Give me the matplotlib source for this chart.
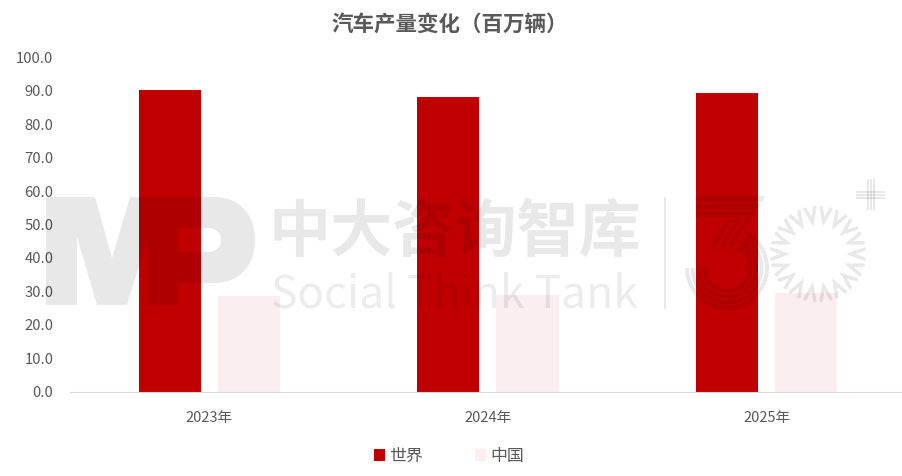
import numpy as np
import matplotlib
matplotlib.use("Agg")
import matplotlib.pyplot as plt
from matplotlib.patches import Rectangle, Arc, Polygon, PathPatch
from matplotlib.path import Path
from matplotlib.transforms import ScaledTranslation

years = ["2023年", "2024年", "2025年"]
world = [90.4, 88.3, 89.5]
china = [28.7, 29.0, 29.6]
yticks = [0, 10, 20, 30, 40, 50, 60, 70, 80, 90, 100]

RED = "#C00000"
PALE = "#FAEEEE"
GREY = "#595959"
WM = (0, 0, 0, 0.09)
WM_LIGHT = (0, 0, 0, 0.075)

plt.rcParams["font.family"] = ["Noto Sans CJK SC", "DejaVu Sans"]


def draw_watermark(fig):
    """Faint logo over the chart, laid out in pixel coordinates."""
    wm = fig.add_axes([0, 0, 1, 1], zorder=10)
    wm.set_xlim(0, 902)
    wm.set_ylim(476, 0)
    wm.axis("off")
    wm.patch.set_alpha(0)

    # M and P share a stem
    m_pts = [(46, 197), (95, 197), (112, 258), (130, 197), (178, 197), (178, 305), (147, 305),
             (147, 240), (127, 305), (97, 305), (77, 237), (77, 305), (46, 305)]
    wm.add_patch(Polygon(m_pts, closed=True, color=WM, lw=0))
    c4 = Path.CURVE4
    verts = [(178, 197), (214, 197), (240, 197), (255, 215), (255, 240), (255, 265), (240, 283),
             (214, 283), (178, 283), (178, 197),
             (178, 228), (178, 252), (208, 252), (216, 252), (221, 247), (221, 240),
             (221, 233), (216, 228), (208, 228), (178, 228)]
    codes = [Path.MOVETO, Path.LINETO, c4, c4, c4, c4, c4, c4, Path.LINETO, Path.CLOSEPOLY,
             Path.MOVETO, Path.LINETO, Path.LINETO, c4, c4, c4, c4, c4, c4, Path.CLOSEPOLY]
    wm.add_patch(PathPatch(Path(verts, codes), color=WM, lw=0))

    wm.text(269, 251, "中大咨询智库", fontsize=44.7, fontweight="bold", color=WM,
            va="baseline", ha="left")
    wm.text(271, 307, "Social Think Tank", fontsize=32, color=WM_LIGHT,
            va="baseline", ha="left")
    wm.add_patch(Rectangle((664, 197), 2, 112, color=WM, lw=0))

    # the 3
    for y in (196, 203.5, 211):
        wm.add_patch(Polygon([(695, y), (765 - (y - 196) * 0.6, y), (762 - (y - 196) * 0.6, y + 6),
                              (695, y + 6)], closed=True, color=WM, lw=0))
    for x0, x1 in ((730, 713), (738, 722), (747, 730)):
        wm.plot([x0, x1], [218, 247], color=WM, lw=2.8, solid_capstyle="butt")
    for r in (23, 29, 34.5, 40):
        wm.add_patch(Arc((727, 268), 2 * r, 2 * r, theta1=-62, theta2=180, color=WM, lw=2.8))

    # sun ring
    cx, cy = 818, 254
    for a in np.radians(np.arange(0, 360, 20)):
        da = np.radians(6.5)
        xs = [cx + 48 * np.cos(a - da), cx + 33 * np.cos(a), cx + 48 * np.cos(a + da)]
        ys = [cy + 48 * np.sin(a - da), cy + 33 * np.sin(a), cy + 48 * np.sin(a + da)]
        wm.plot(xs, ys, color=WM, lw=2.5, solid_joinstyle="miter", solid_capstyle="butt")

    # plus sign
    for off in (-3, 0, 3):
        wm.plot([857, 884], [195 + off, 195 + off], color=WM, lw=1.5)
        wm.plot([871 + off, 871 + off], [180, 209], color=WM, lw=1.5)


def main():
    fig = plt.figure(figsize=(9.02, 4.76), dpi=100)
    ax = fig.add_axes([70 / 902, 84 / 476, 832 / 902, 334 / 476])

    x = np.arange(len(years))
    ax.bar(x - 0.142, world, 0.223, color=RED, label="世界")
    ax.bar(x + 0.142, china, 0.223, color=PALE, label="中国")

    ax.set_xlim(-0.5, 2.486)
    ax.set_ylim(0, 100)
    ax.set_xticks(x, years)
    ax.set_yticks(yticks, [f"{v:.1f}" for v in yticks])
    ax.tick_params(axis="both", length=0, labelcolor=GREY, labelsize=10.5)
    ax.tick_params(axis="x", pad=14)
    ax.tick_params(axis="y", labelsize=10.7, pad=12)
    # y labels sit slightly above their gridline position
    nudge = ScaledTranslation(0, 0.5 / 100, fig.dpi_scale_trans)
    for label in ax.get_yticklabels():
        label.set_transform(label.get_transform() + nudge)
    for side in ("top", "right", "left"):
        ax.spines[side].set_visible(False)
    ax.spines["bottom"].set_color("#D9D9D9")

    fig.text(450 / 902, 1 - 24 / 476, "汽车产量变化（百万辆）", fontsize=15.5, fontweight="bold",
             color=GREY, ha="center", va="center")
    fig.legend(loc="center", bbox_to_anchor=(449 / 902, 1 - 456 / 476), ncol=2, frameon=False,
               fontsize=12.2, labelcolor=GREY, handlelength=0.65, handleheight=0.65,
               columnspacing=3.05, handletextpad=0.25)

    draw_watermark(fig)
    fig.savefig("out.png", dpi=100)


if __name__ == "__main__":
    main()
